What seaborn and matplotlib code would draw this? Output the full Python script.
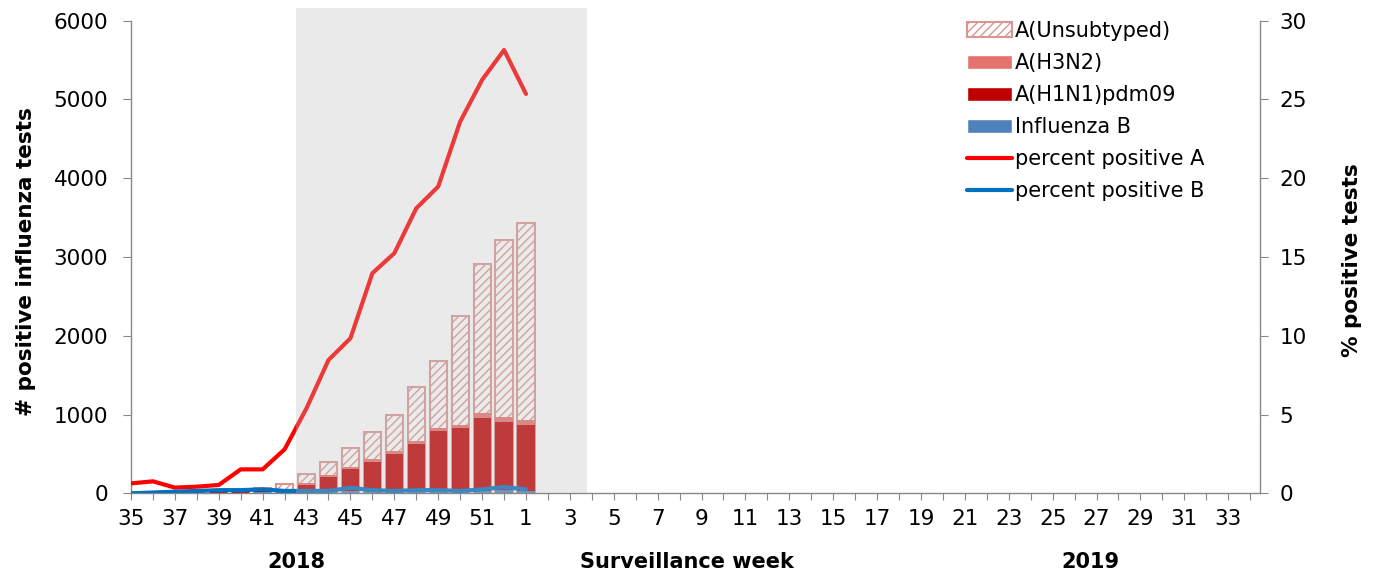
import numpy as np
import pandas as pd
import seaborn as sns
import matplotlib
matplotlib.use('Agg')
import matplotlib.pyplot as plt
from matplotlib.patches import Patch
from matplotlib.lines import Line2D


# surveillance weeks 35/2018 .. 34/2019, data up to week 1
weeks = [str(w) for w in list(range(35, 53)) + list(range(1, 35))]
data_weeks = weeks[:19]

flu_b = [3, 4, 5, 6, 8, 10, 12, 15, 15, 20, 25, 25, 25, 25, 30, 30, 35, 40, 35]
h1n1 = [0, 0, 0, 2, 3, 15, 20, 30, 95, 187, 280, 372, 474, 597, 757, 795, 926, 865, 828]
h3n2 = [0, 0, 0, 0, 2, 5, 8, 10, 15, 25, 35, 35, 38, 42, 45, 40, 60, 60, 70]
unsubtyped = [0, 0, 2, 2, 4, 15, 25, 65, 116, 170, 235, 346, 457, 690, 848, 1385, 1893, 2247, 2495]

pct_pos_a = [0.63, 0.76, 0.36, 0.42, 0.53, 1.52, 1.52, 2.79, 5.4, 8.46, 9.84, 13.97,
             15.24, 18.09, 19.47, 23.59, 26.24, 28.14, 25.35]
pct_pos_b = [0.0, 0.05, 0.1, 0.15, 0.2, 0.2, 0.25, 0.15, 0.15, 0.15, 0.35, 0.2,
             0.15, 0.2, 0.2, 0.15, 0.25, 0.4, 0.25]

COL_UNSUB = '#D99694'
COL_H3 = '#E6726E'
COL_H1 = '#C00000'
COL_B = '#4F81BD'
COL_PA = '#FF0000'
COL_PB = '#0070C0'

sns.set_style('ticks')
plt.rcParams['font.family'] = ['DejaVu Sans']
plt.rcParams['text.color'] = 'black'
plt.rcParams['hatch.linewidth'] = 1.0

fig, ax = plt.subplots(figsize=(13.75, 5.73), dpi=100)
fig.subplots_adjust(left=131 / 1375, right=1260 / 1375, top=1 - 20.7 / 573, bottom=1 - 493.3 / 573)

b = np.array(flu_b)
c1 = b + np.array(h1n1)
c2 = c1 + np.array(h3n2)
c3 = c2 + np.array(unsubtyped)

# stacked bars drawn as overlapping cumulative layers
sns.barplot(x=data_weeks, y=c3, order=weeks, ax=ax, color='white', saturation=1,
            width=0.78, errorbar=None, edgecolor=COL_UNSUB, linewidth=1.5, hatch='////')
sns.barplot(x=data_weeks, y=c2, order=weeks, ax=ax, color=COL_H3, saturation=1,
            width=0.78, errorbar=None, linewidth=0)
sns.barplot(x=data_weeks, y=c1, order=weeks, ax=ax, color=COL_H1, saturation=1,
            width=0.78, errorbar=None, linewidth=0)
sns.barplot(x=data_weeks, y=b, order=weeks, ax=ax, color=COL_B, saturation=1,
            width=0.78, errorbar=None, linewidth=0)

ax.set_ylim(0, 6000)
ax.set_yticks(range(0, 6001, 1000))
ax.set_xlim(0, 51.45)
ax.set_xticks(range(len(weeks)))
ax.set_xticklabels([w if i % 2 == 0 else '' for i, w in enumerate(weeks)])
ax.set_xlabel('')
ax.set_ylabel('')

ax2 = ax.twinx()
pos = np.arange(len(data_weeks))
sns.lineplot(x=pos, y=pct_pos_a, ax=ax2, color=COL_PA, linewidth=3)
sns.lineplot(x=pos, y=pct_pos_b, ax=ax2, color=COL_PB, linewidth=3)
ax2.set_ylim(0, 30)
ax2.set_yticks(range(0, 31, 5))
ax2.set_xlim(0, 51.45)
ax2.set_ylabel('')

# shaded period, drawn over everything
ax2.axvspan(7.52, 20.78, ymin=0, ymax=1.027, facecolor=(0.745, 0.745, 0.745),
            alpha=0.31, lw=0, zorder=10, clip_on=False)

for a in (ax, ax2):
    for s in a.spines.values():
        s.set_color('#888888')
        s.set_linewidth(1.0)
    a.spines['top'].set_visible(False)
ax.spines['right'].set_visible(False)
ax2.spines['left'].set_visible(False)
ax2.spines['bottom'].set_visible(False)

ax.tick_params(axis='y', length=5.5, color='#888888', labelcolor='black', labelsize=15.5, pad=11)
ax.tick_params(axis='x', length=5, color='#888888', labelcolor='black', labelsize=15.5, pad=6)
ax2.tick_params(axis='y', length=6, color='#888888', labelcolor='black', labelsize=15.5, pad=8)

handles = [
    Patch(facecolor='white', edgecolor=COL_UNSUB, hatch='////', linewidth=1.5, label='A(Unsubtyped)'),
    Patch(facecolor=COL_H3, label='A(H3N2)'),
    Patch(facecolor=COL_H1, label='A(H1N1)pdm09'),
    Patch(facecolor=COL_B, label='Influenza B'),
    Line2D([0], [0], color=COL_PA, lw=3, label='percent positive A'),
    Line2D([0], [0], color=COL_PB, lw=3, label='percent positive B'),
]
leg = ax2.legend(handles=handles, loc='upper left', bbox_to_anchor=(967 / 1375, 1 - 21 / 573),
                 bbox_transform=fig.transFigure, frameon=False, fontsize=15, borderpad=0,
                 borderaxespad=0, handlelength=2.16, handletextpad=0.15, labelspacing=0.58)
for t in leg.get_texts():
    t.set_color('black')

fig.text(26 / 1375, 1 - 262 / 573, '# positive influenza tests', rotation=90,
         ha='center', va='center', fontsize=15.5, fontweight='bold')
fig.text(1352 / 1375, 1 - 260 / 573, '% positive tests', rotation=90,
         ha='center', va='center', fontsize=15.5, fontweight='bold')
fig.text(296 / 1375, 1 - 562 / 573, '2018', ha='center', va='center', fontsize=15, fontweight='bold')
fig.text(687 / 1375, 1 - 562 / 573, 'Surveillance week', ha='center', va='center',
         fontsize=15, fontweight='bold')
fig.text(1090 / 1375, 1 - 562 / 573, '2019', ha='center', va='center', fontsize=15, fontweight='bold')

fig.savefig('out.png', dpi=100)
